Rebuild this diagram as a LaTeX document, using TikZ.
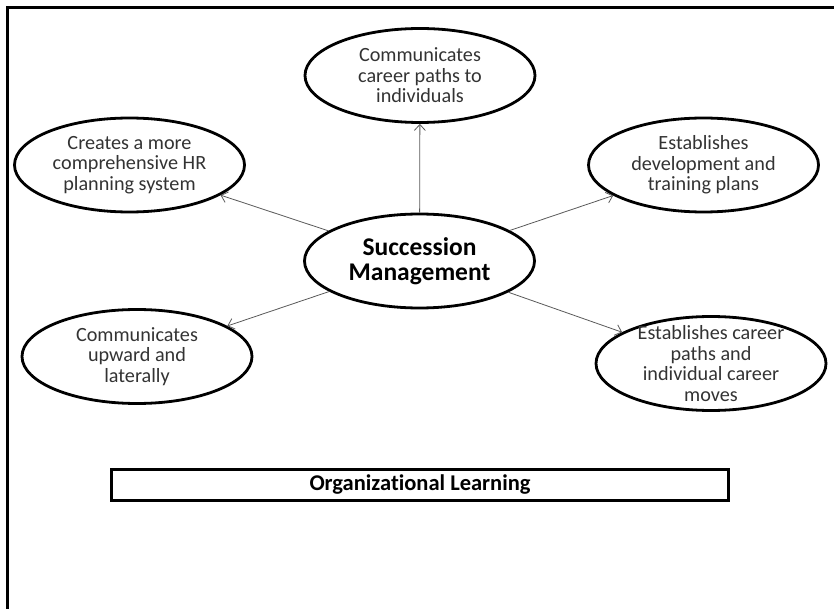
\documentclass[tikz,border=0pt]{standalone}
\usepackage{fontspec}
\setmainfont{Carlito}[Ligatures=NoCommon]
\usetikzlibrary{positioning,shapes.geometric,arrows.meta}

\tikzset{
  outcome/.style={ellipse, draw, line width=2.8pt, minimum width=230pt,
    minimum height=94pt, inner xsep=0pt, inner ysep=-14pt, align=center,
    text=black!80, font=\fontsize{20.2}{20.5}\selectfont},
  hub/.style={outcome, text=black, font=\bfseries\fontsize{25.5}{25.5}\selectfont},
  link/.style={draw=black!65, line width=0.8pt,
    -{Straight Barb[length=6pt,width=11pt]}}
}

\begin{document}
\begin{tikzpicture}[x=1pt,y=-1pt]
\useasboundingbox (0,0) rectangle (834,609);

% Outer frame (runs past the right and bottom edge)
\draw[line width=3pt] (7,8) rectangle (900,700);

% Succession Management hub
\node[hub] (succ) at (419.5,261) {Succession\\Management};

% Outcomes around the hub
\node[outcome] (paths) at (420,75.5) {Communicates\\career paths to\\individuals};
\node[outcome] (hrplan) at (129.5,165) {Creates a more\\comprehensive HR\\planning system};
\node[outcome] (devplan) at (703.5,165) {Establishes\\development and\\training plans};
\node[outcome] (upward) at (137,356.5) {Communicates\\upward and\\laterally};
\node[outcome] (moves) at (711,363.5) {Establishes career\\paths and\\individual career\\moves};

% Organizational Learning bar
\node[rectangle, draw, line width=3pt, minimum width=617pt, minimum height=31pt,
      font=\bfseries\fontsize{22.5}{24}\selectfont] (learn) at (420,485) {Organizational Learning};

% Arrows
\draw[link] (succ) -- (paths);
\draw[link] (succ) -- (hrplan);
\draw[link] (succ) -- (devplan);
\draw[link] (succ) -- (upward);
\draw[link] (succ) -- (moves);

\end{tikzpicture}
\end{document}
